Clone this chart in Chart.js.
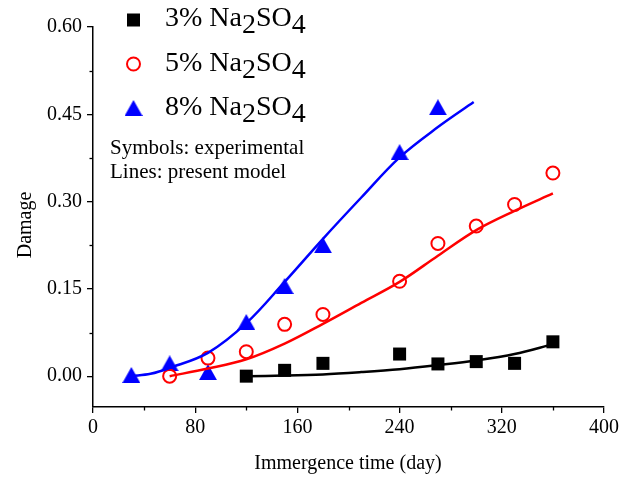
<!DOCTYPE html>
<html>
<head>
<meta charset="utf-8">
<script src="https://cdn.jsdelivr.net/npm/chart.js@4"></script>
<style>
  html, body { margin: 0; padding: 0; background: #fff; }
  #chart { display: block; }
</style>
</head>
<body>
<canvas id="chart" width="630" height="478"></canvas>
<script>
// experimental points
var days3 = [120, 150, 180, 240, 270, 300, 330, 360];
var dmg3 = [0.000, 0.010, 0.022, 0.038, 0.021, 0.025, 0.022, 0.059];
var days5 = [60, 90, 120, 150, 180, 240, 270, 300, 330, 360];
var dmg5 = [0.000, 0.031, 0.042, 0.089, 0.106, 0.163, 0.228, 0.258, 0.295, 0.349];
var days8 = [30, 60, 90, 120, 150, 180, 240, 270];
var dmg8 = [0.002, 0.022, 0.007, 0.093, 0.155, 0.225, 0.385, 0.462];

// model curves
var fitDays3 = [120, 150, 180, 210, 240, 270, 300, 330, 360];
var fit3 = [0.000, 0.001, 0.003, 0.007, 0.012, 0.019, 0.027, 0.038, 0.055];
var fitDays5 = [60, 90, 120, 150, 180, 210, 240, 270, 300, 330, 360];
var fit5 = [0.000, 0.013, 0.029, 0.056, 0.090, 0.126, 0.162, 0.207, 0.251, 0.284, 0.314];
var fitDays8 = [30, 45, 60, 90, 120, 150, 180, 210, 240, 270, 298];
var fit8 = [0.000, 0.004, 0.014, 0.040, 0.091, 0.162, 0.236, 0.307, 0.376, 0.428, 0.471];

var xTicks = [0, 80, 160, 240, 320, 400];
var xMinor = [40, 120, 200, 280, 360];
var yTicks = [0, 0.15, 0.30, 0.45, 0.60];
var yMinor = [0.075, 0.225, 0.375, 0.525];

var legendLabels = ['3%', '5%', '8%'];
var noteLines = ['Symbols: experimental', 'Lines: present model'];

var serif = '"Liberation Serif", "Times New Roman", serif';
Chart.defaults.font.family = serif;
Chart.defaults.color = '#000';

function pts(xs, ys) {
	return xs.map(function (x, i) { return { x: x, y: ys[i] }; });
}

// triangle centred on its bounding box, like the original plot
function makeTriangle(w, h) {
	var c = document.createElement('canvas');
	c.width = w; c.height = h;
	var g = c.getContext('2d');
	g.fillStyle = '#0000ff';
	g.beginPath();
	g.moveTo(w / 2, 0);
	g.lineTo(w, h);
	g.lineTo(0, h);
	g.closePath();
	g.fill();
	return c;
}
var tri = makeTriangle(18, 16);

var extras = {
	id: 'extras',
	afterDraw: function (chart) {
		var ctx = chart.ctx, xs = chart.scales.x, ys = chart.scales.y, area = chart.chartArea;
		ctx.save();
		// minor ticks
		ctx.strokeStyle = '#000';
		ctx.lineWidth = 1.3;
		xMinor.forEach(function (v) {
			var px = Math.round(xs.getPixelForValue(v)) + 0.5;
			ctx.beginPath(); ctx.moveTo(px, area.bottom); ctx.lineTo(px, area.bottom + 3.5); ctx.stroke();
		});
		yMinor.forEach(function (v) {
			var py = Math.round(ys.getPixelForValue(v)) + 0.5;
			ctx.beginPath(); ctx.moveTo(area.left, py); ctx.lineTo(area.left - 3.5, py); ctx.stroke();
		});

		// axis titles
		ctx.fillStyle = '#000';
		ctx.font = '20px ' + serif;
		ctx.textAlign = 'center';
		ctx.textBaseline = 'alphabetic';
		ctx.fillText('Immergence time (day)', 348, 469);
		ctx.save();
		ctx.translate(31, 225);
		ctx.rotate(-Math.PI / 2);
		ctx.fillText('Damage', 0, 0);
		ctx.restore();

		// legend
		var rows = [26, 71, 115];
		var symY = [20, 64, 108];
		ctx.font = '28px ' + serif;
		ctx.textAlign = 'left';
		rows.forEach(function (base, i) {
			var x = 165;
			var parts = [[legendLabels[i] + ' Na', 0], ['2', 7], ['SO', 0], ['4', 7]];
			parts.forEach(function (p) {
				ctx.fillText(p[0], x, base + p[1]);
				x += ctx.measureText(p[0]).width;
			});
		});
		ctx.fillStyle = '#000';
		ctx.fillRect(127, symY[0] - 6.5, 13, 13);
		ctx.strokeStyle = '#ff0000';
		ctx.lineWidth = 2;
		ctx.beginPath(); ctx.arc(133.5, symY[1], 6.5, 0, Math.PI * 2); ctx.stroke();
		ctx.drawImage(tri, 124.5, symY[2] - 8);

		// note
		ctx.fillStyle = '#000';
		ctx.font = '21px ' + serif;
		ctx.fillText(noteLines[0], 110, 154);
		ctx.fillText(noteLines[1], 110, 178);
		ctx.restore();
	}
};

var lineOpts = { type: 'line', borderWidth: 2.5, pointRadius: 0, tension: 0.35, fill: false };

var ctx = document.getElementById('chart').getContext('2d');
var chart = new Chart(ctx, {
	type: 'scatter',
	data: {
		datasets: [
			Object.assign({ data: pts(fitDays3, fit3), borderColor: '#000' }, lineOpts),
			Object.assign({ data: pts(fitDays5, fit5), borderColor: '#ff0000' }, lineOpts),
			Object.assign({ data: pts(fitDays8, fit8), borderColor: '#0000ff' }, lineOpts),
			{ data: pts(days3, dmg3), pointStyle: 'rect', pointRadius: 9.2, backgroundColor: '#000', borderColor: '#000', borderWidth: 0 },
			{ data: pts(days5, dmg5), pointStyle: 'circle', pointRadius: 6.5, backgroundColor: 'rgba(0,0,0,0)', borderColor: '#ff0000', borderWidth: 2 },
			{ data: pts(days8, dmg8), pointStyle: tri, pointRadius: 9, backgroundColor: '#0000ff', borderColor: '#0000ff' }
		]
	},
	options: {
		responsive: false,
		animation: false,
		layout: { padding: { top: 27, right: 26, left: 0, bottom: 0 } },
		plugins: { legend: { display: false }, tooltip: { enabled: false } },
		scales: {
			x: {
				type: 'linear', min: 0, max: 400,
				afterBuildTicks: function (s) { s.ticks = xTicks.map(function (v) { return { value: v }; }); },
				afterFit: function (s) { s.height = 71; },
				ticks: { font: { size: 20 }, padding: 3, color: '#000' },
				grid: { drawOnChartArea: false, drawTicks: true, tickLength: 6, color: '#000', lineWidth: 1.3 },
				border: { display: true, color: '#000', width: 1.5 }
			},
			y: {
				type: 'linear', min: -0.053, max: 0.6,
				afterBuildTicks: function (s) { s.ticks = yTicks.map(function (v) { return { value: v }; }); },
				afterFit: function (s) { s.width = 93; },
				ticks: { font: { size: 20 }, padding: 5, color: '#000', callback: function (v) { return v.toFixed(2); } },
				grid: { drawOnChartArea: false, drawTicks: true, tickLength: 6, color: '#000', lineWidth: 1.3 },
				border: { display: true, color: '#000', width: 1.5 }
			}
		}
	},
	plugins: [extras]
});
</script>
</body>
</html>
